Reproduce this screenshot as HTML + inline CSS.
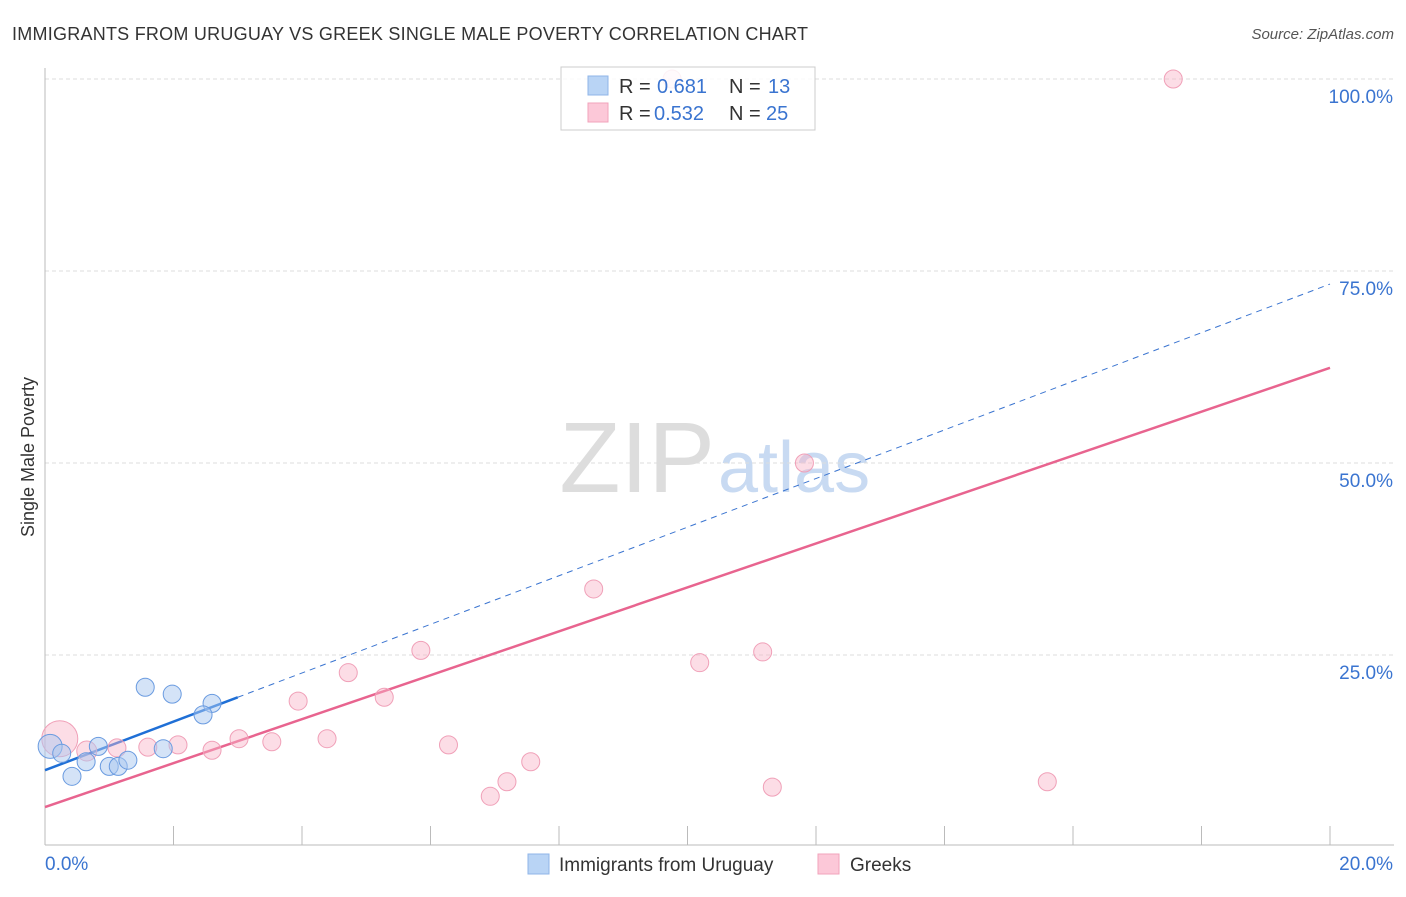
<!DOCTYPE html>
<html><head><meta charset="utf-8"><style>
body{margin:0;background:#fff;font-family:"Liberation Sans",sans-serif;}
svg text{font-family:"Liberation Sans",sans-serif;}
</style></head><body>
<svg id="c" width="1406" height="892">
<text x="12" y="40" font-size="18" fill="#333" textLength="796">IMMIGRANTS FROM URUGUAY VS GREEK SINGLE MALE POVERTY CORRELATION CHART</text>
<text x="1394" y="39" font-size="15" fill="#555" font-style="italic" text-anchor="end">Source: ZipAtlas.com</text>
<text x="34" y="457" font-size="18" fill="#333" text-anchor="middle" transform="rotate(-90 34 457)">Single Male Poverty</text>
<text x="715" y="492" font-size="100" fill="#ddd" text-anchor="end" font-family="Liberation Serif">ZIP</text>
<text x="718" y="492" font-size="72" fill="#c8daf2">atlas</text>
<g id="grid"></g><g id="axes"></g><g id="lines"></g><g id="pts"></g>
<g>
<rect x="561" y="67" width="254" height="63" fill="#fff" fill-opacity="0.85" stroke="#ccc"/>
<rect x="588" y="76" width="20" height="19" fill="#b9d4f5" stroke="#8fb5e8"/>
<rect x="588" y="103" width="20" height="19" fill="#fcc8d8" stroke="#f2a3bb"/>
<text x="619" y="93" font-size="20" fill="#333">R =</text>
<text x="657" y="93" font-size="20" fill="#3a74d0">0.681</text>
<text x="729" y="93" font-size="20" fill="#333">N =</text>
<text x="768" y="93" font-size="20" fill="#3a74d0">13</text>
<text x="619" y="120" font-size="20" fill="#333">R =</text>
<text x="654" y="120" font-size="20" fill="#3a74d0">0.532</text>
<text x="729" y="120" font-size="20" fill="#333">N =</text>
<text x="766" y="120" font-size="20" fill="#3a74d0">25</text>
</g>
<g>
<rect x="528" y="854" width="21" height="20" fill="#b9d4f5" stroke="#8fb5e8"/>
<text x="559" y="871" font-size="19" fill="#333">Immigrants from Uruguay</text>
<rect x="818" y="854" width="21" height="20" fill="#fcc8d8" stroke="#f2a3bb"/>
<text x="850" y="871" font-size="19" fill="#333">Greeks</text>
</g>
</svg>
<script>
const yTicks=[25,50,75,100];
const blueX=[1.56,1.98,2.6,2.46,0.08,0.26,0.83,0.64,0.42,1.0,1.14,1.29,1.84];
const blueY=[20.8,19.9,18.7,17.2,13.1,12.2,13.1,11.1,9.2,10.5,10.5,11.3,12.8];
const pinkX=[0.23,0.65,1.12,1.6,2.07,2.6,3.02,3.53,4.39,3.94,4.72,5.28,5.85,6.28,6.93,7.19,7.56,8.54,10.19,11.17,11.32,11.82,15.6,17.56,9.76];
const pinkY=[14.1,12.5,12.9,13.0,13.3,12.6,14.1,13.7,14.1,19.0,22.7,19.5,25.6,13.3,6.6,8.5,11.1,33.6,24.0,25.4,7.8,50.0,8.5,100,100];
const pinkR=[18,10,9,9,9,9,9,9,9,9,9,9,9,9,9,9,9,9,9,9,9,9,9,9,9];
const blueR=[9,9,9,9,12,9,9,9,9,9,9,9,9];
const blueLine=[10.0,73.3], pinkLine=[5.2,62.4];
const X=v=>45+v/20*1285, Y=v=>847-v*7.68;
const NS='http://www.w3.org/2000/svg';
function mk(p,t,a){const e=document.createElementNS(NS,t);for(const k in a)e.setAttribute(k,a[k]);document.getElementById(p).appendChild(e);return e;}
yTicks.forEach(t=>{
 const l=mk('grid','line',{x1:45,x2:1394,y1:Y(t),y2:Y(t),stroke:'#ddd','stroke-dasharray':'4 3'});
 
 
 const tx=mk('grid','text',{x:1393,y:Y(t)+24,'font-size':19,fill:'#3a74d0','text-anchor':'end'});
 tx.textContent=t.toFixed(1)+'%';
 
 
});
mk('axes','line',{x1:45,x2:45,y1:68,y2:845,stroke:'#bbb'});
mk('axes','line',{x1:45,x2:1394,y1:845,y2:845,stroke:'#bbb'});
for(let i=1;i<=10;i++){mk('axes','line',{x1:X(i*2),x2:X(i*2),y1:826,y2:845,stroke:'#bbb'});}
[['0.0%',45,'start'],['20.0%',1393,'end']].forEach(([s,x,a])=>{const t=mk('axes','text',{x:x,y:870,'font-size':19,fill:'#3a74d0','text-anchor':a});t.textContent=s;

});
const bAt=x=>blueLine[0]+(blueLine[1]-blueLine[0])*x/20;
const pAt=x=>pinkLine[0]+(pinkLine[1]-pinkLine[0])*x/20;
const bd=mk('lines','line',{x1:X(3),y1:Y(bAt(3)),x2:X(20),y2:Y(bAt(20)),stroke:'#3a74d0','stroke-width':1,'stroke-dasharray':'6 5'});


const bs=mk('lines','line',{x1:X(0),y1:Y(bAt(0)),x2:X(3),y2:Y(bAt(3)),stroke:'#1f6fd6','stroke-width':2.5});


const pl=mk('lines','line',{x1:X(0),y1:Y(pAt(0)),x2:X(20),y2:Y(pAt(20)),stroke:'#e8648f','stroke-width':2.5});


pinkX.forEach((v,i)=>{const c=mk('pts','circle',{cx:X(v),cy:Y(pinkY[i]),r:pinkR[i],fill:'rgba(248,180,200,0.45)',stroke:'#f0a0b8'});

});
blueX.forEach((v,i)=>{const c=mk('pts','circle',{cx:X(v),cy:Y(blueY[i]),r:blueR[i],fill:'rgba(170,200,240,0.5)',stroke:'#6a9be0'});

});
</script>
</body></html>
